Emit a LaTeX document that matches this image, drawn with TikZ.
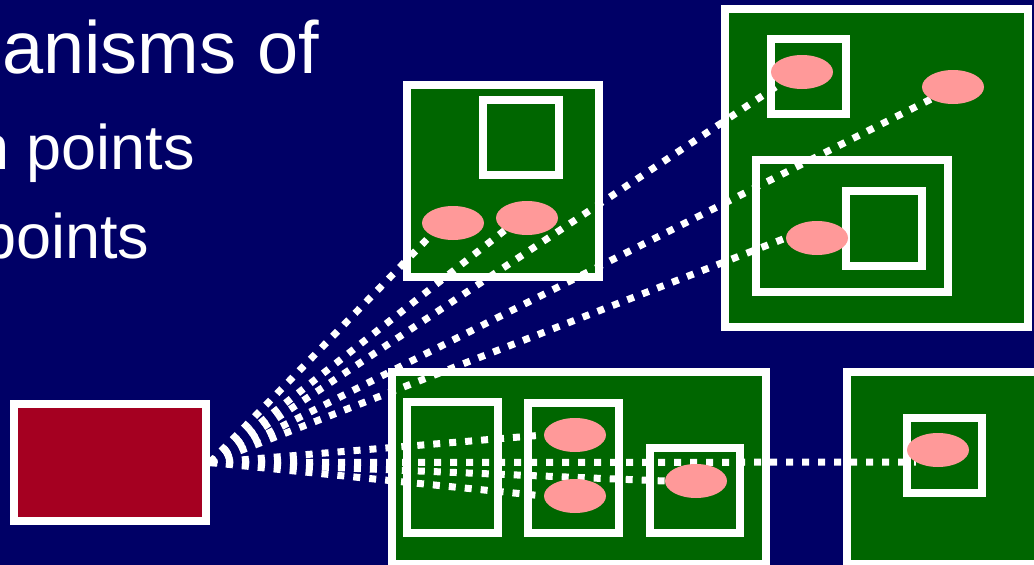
\documentclass[tikz,border=0pt]{standalone}
\usepackage{fontspec}
\setmainfont{Liberation Sans}
\usepackage{tikz}
\usetikzlibrary{positioning, shapes.geometric}

\definecolor{slidebg}{HTML}{000066}
\definecolor{netgreen}{HTML}{006600}
\definecolor{hostred}{HTML}{A50021}
\definecolor{peerpink}{HTML}{FF9999}

\pgfdeclarelayer{under}
\pgfdeclarelayer{wires}
\pgfsetlayers{under,wires,main}

\tikzset{
  cell/.style={fill=netgreen, draw=white, line width=8pt},
  blob/.style={ellipse, fill=peerpink, inner sep=0pt, minimum width=62pt, minimum height=34pt},
  link/.style={draw=white, line width=7pt, dash pattern=on 7pt off 9pt},
  words/.style={anchor=base west, text=white, inner sep=0pt}
}

\begin{document}
\begin{tikzpicture}[x=1pt, y=-1pt]
      \useasboundingbox (0,0) rectangle (1034,565);

      % slide text, cut at the left edge
      \node[words, font=\fontsize{74}{80}\selectfont] (line1) at (2,73) {anisms of};
      \node[words, font=\fontsize{63}{70}\selectfont] (line2) at (-26,169) {n points};
      \node[words, font=\fontsize{63}{70}\selectfont] (line3) at (-19,258) {points};

      \begin{pgfonlayer}{under}
        \fill[slidebg] (0,0) rectangle (1034,565);
        % top middle network
        \draw[cell] (407,85) rectangle (599,277);
        \draw[cell] (483,100) rectangle (559,175);
        % top right network
        \draw[cell] (725,9) rectangle (1028,327);
        \draw[cell] (771,39) rectangle (846,114);
        \draw[cell] (756,160) rectangle (948,292);
        \draw[cell] (846,191) rectangle (922,266);
        % bottom middle network
        \draw[cell] (392,372) rectangle (766,564);
        \draw[cell] (407,402) rectangle (498,533);
        \draw[cell] (528,403) rectangle (619,533);
        \draw[cell] (650,448) rectangle (740,533);
        % bottom right network
        \draw[cell] (847,372) rectangle (1045,564);
        \draw[cell] (907,418) rectangle (982,493);
      \end{pgfonlayer}

      % the source host
      \node[fill=hostred, draw=white, line width=8pt, minimum width=192pt, minimum height=117pt] (src) at (110,462.5) {};

      % peers
      \node[blob] (p1) at (453,223) {};
      \node[blob] (p2) at (527,218) {};
      \node[blob] (p3) at (802,72) {};
      \node[blob] (p4) at (953,87) {};
      \node[blob] (p5) at (817,238) {};
      \node[blob] (p6) at (575,435) {};
      \node[blob] (p7) at (575,496) {};
      \node[blob] (p8) at (696,481) {};
      \node[blob] (p9) at (938,450) {};

      \begin{pgfonlayer}{wires}
        \draw[link] (src.east) -- (p1.south west);
        \draw[link] (src.east) -- (p2.south west);
        \draw[link] (src.east) -- (p3.south west);
        \draw[link] (src.east) -- (p4.south west);
        \draw[link] (src.east) -- (p5.west);
        \draw[link] (src.east) -- (p6.west);
        \draw[link] (src.east) -- (p7.west);
        \draw[link] (src.east) -- (p8.west);
        \draw[link] (src.east) -- (p9.south west);
      \end{pgfonlayer}
    \end{tikzpicture}
\end{document}
